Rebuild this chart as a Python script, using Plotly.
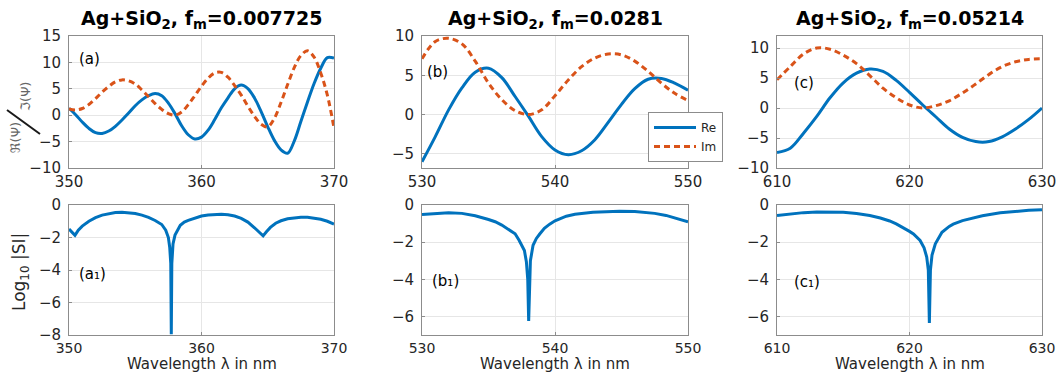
import plotly.graph_objects as go

# ---------------- data ----------------
wl_a = [350, 350.5, 351, 351.5, 352, 352.5, 353, 353.5, 354, 354.5, 355, 355.5, 356, 356.5,
        357, 357.5, 358, 358.5, 359, 359.5, 360, 360.5, 361, 361.5, 362, 362.5, 363, 363.5,
        364, 364.5, 365, 365.5, 366, 366.5, 367, 367.5, 368, 368.5, 369, 369.5, 370]
re_a = [1.3, 0.1, -1.3, -2.5, -3.3, -3.45, -3.0, -2.1, -0.9, 0.4, 1.8, 2.9, 3.7, 4.1,
        3.7, 2.3, 0.3, -2.0, -3.7, -4.5, -4.15, -2.84, -0.82, 1.4, 3.3, 5.0, 5.7, 5.05,
        3.27, 0.69, -2.19, -4.77, -6.56, -7.2, -4.9, -1.2, 2.5, 6.0, 8.9, 10.9, 10.8]
im_a = [1.2, 1.0, 1.27, 2.03, 3.14, 4.38, 5.45, 6.33, 6.69, 6.5, 5.9, 4.8, 3.5, 2.2,
        1.1, 0.3, 0.0, 0.6, 2.0, 3.7, 5.5, 7.0, 8.0, 8.1, 7.2, 5.6, 3.8, 1.7,
        -0.2, -1.7, -2.2, -0.6, 2.4, 5.8, 9.0, 11.3, 12.2, 11.0, 8.0, 3.8, -2.4]

wl_b = [530, 531, 532, 533, 534, 535, 536, 537, 538, 539, 540,
        541, 542, 543, 544, 545, 546, 547, 548, 549, 550]
re_b = [-6.0, -2.8, 0.6, 3.4, 5.4, 5.9, 4.7, 2.3, -0.2, -2.8, -4.5,
        -5.1, -4.6, -3.2, -1.0, 1.3, 3.3, 4.5, 4.6, 4.0, 3.1]
im_b = [7.1, 9.3, 9.7, 9.0, 6.8, 4.0, 1.9, 0.5, 0.0, 0.6, 2.4,
        4.4, 6.1, 7.2, 7.7, 7.6, 6.8, 5.5, 4.0, 2.7, 1.8]

wl_c = [610, 611, 612, 613, 614, 615, 616, 617, 618, 619, 620,
        621, 622, 623, 624, 625, 626, 627, 628, 629, 630]
re_c = [-7.4, -6.7, -4.2, -1.4, 1.7, 4.2, 5.8, 6.5, 6.1, 4.6, 2.6,
        0.5, -1.5, -3.5, -4.9, -5.6, -5.6, -4.8, -3.5, -1.9, 0.0]
im_c = [4.7, 6.9, 9.0, 10.0, 9.8, 8.8, 7.4, 5.4, 3.3, 1.7, 0.5,
        0.0, 0.4, 1.2, 2.5, 4.0, 5.6, 6.9, 7.7, 8.1, 8.2]

wl_a1 = [350, 350.2, 350.45, 350.7, 351, 351.5, 352, 352.5, 353, 353.5, 354, 354.5, 355,
         355.5, 356, 356.5, 357, 357.3, 357.5, 357.6, 357.68, 357.72, 357.76, 357.85, 358,
         358.4, 358.7, 359, 359.5, 360, 360.5, 361, 361.5, 362, 362.5, 363, 363.5, 364,
         364.4, 364.65, 364.9, 365.2, 365.6, 366, 366.5, 367, 367.5, 368, 368.5, 369,
         369.5, 370]
s_a1 = [-1.48, -1.65, -1.87, -1.55, -1.3, -1.0, -0.78, -0.62, -0.52, -0.46, -0.45, -0.47,
        -0.52, -0.62, -0.76, -0.95, -1.2, -1.55, -2.0, -2.6, -3.6, -7.95, -3.6, -2.4, -1.85,
        -1.25, -1.05, -0.95, -0.8, -0.68, -0.61, -0.58, -0.57, -0.6, -0.68, -0.82, -1.05,
        -1.4, -1.7, -1.9, -1.65, -1.38, -1.12, -0.97, -0.85, -0.78, -0.75, -0.76, -0.8,
        -0.88, -1.0, -1.17]

wl_b1 = [530, 531, 532, 533, 534, 535, 535.5, 536, 536.5, 537, 537.3, 537.5, 537.7, 537.85,
         537.95, 538.02, 538.08, 538.15, 538.35, 538.6, 538.85, 539.2, 539.6, 540, 540.85,
         541.5, 542.85, 544, 544.85, 546, 546.85, 547.5, 548.35, 549, 549.5, 550]
s_b1 = [-0.51, -0.45, -0.42, -0.45, -0.58, -0.78, -0.9, -1.08, -1.3, -1.55, -1.9, -2.15,
        -2.45, -3.07, -4.0, -6.25, -4.0, -3.0, -2.17, -1.8, -1.56, -1.25, -1.03, -0.85,
        -0.6, -0.5, -0.39, -0.34, -0.33, -0.35, -0.39, -0.45, -0.56, -0.7, -0.8, -0.91]

wl_c1 = [610, 611, 612, 613, 614, 615, 616, 617, 617.8, 618.5, 619, 619.5, 620, 620.3,
         620.8, 621.1, 621.3, 621.42, 621.5, 621.58, 621.7, 621.95, 622.45, 623, 623.3,
         624, 624.8, 625.5, 626.85, 628.4, 629, 630]
s_c1 = [-0.56, -0.47, -0.41, -0.38, -0.37, -0.39, -0.46, -0.56, -0.7, -0.86, -1.02, -1.21,
        -1.42, -1.56, -1.91, -2.3, -2.8, -3.5, -6.35, -3.5, -2.7, -2.09, -1.47, -1.15,
        -1.03, -0.84, -0.68, -0.58, -0.42, -0.3, -0.28, -0.25]

titles = ["Ag+SiO<sub>2</sub>, f<sub>m</sub>=0.007725",
          "Ag+SiO<sub>2</sub>, f<sub>m</sub>=0.0281",
          "Ag+SiO<sub>2</sub>, f<sub>m</sub>=0.05214"]
panel_labels = ["(a)", "(b)", "(c)", "(a\u2081)", "(b\u2081)", "(c\u2081)"]
label_pos = [(350.6, 10.7), (530.2, 5.4), (611.1, 4.2),
             (350.6, -4.23), (530.6, -4.07), (611.1, -4.16)]
xranges = [[350, 370], [530, 550], [610, 630]]
top_yranges = [[-10, 15], [-6.8, 10], [-10, 12]]
top_yticks = [[-10, -5, 0, 5, 10, 15], [-5, 0, 5, 10], [-10, -5, 0, 5, 10]]
bot_yranges = [[-8, 0], [-7, 0], [-7, 0]]
bot_yticks = [[-8, -6, -4, -2, 0], [-6, -4, -2, 0], [-6, -4, -2, 0]]

BLUE = "#0072BD"
ORANGE = "#D95319"
FONT = "DejaVu Sans"
W, H = 1057, 373

# pixel layout
xdom_px = [(69, 334), (422, 688), (777, 1042)]
top_px = (36, 168)
bot_px = (205, 335)


def px_x(p):
    return p / W


def px_y(p):
    return 1 - p / H


fig = go.Figure()

tops = [(wl_a, re_a, im_a), (wl_b, re_b, im_b), (wl_c, re_c, im_c)]
bots = [(wl_a1, s_a1), (wl_b1, s_b1), (wl_c1, s_c1)]

for i, (wl, re, im) in enumerate(tops):
    ax = "" if i == 0 else str(i + 1)
    fig.add_trace(go.Scatter(x=wl, y=re, mode="lines", name="Re",
                             line=dict(color=BLUE, width=3, shape="spline", smoothing=1.0),
                             showlegend=(i == 1), xaxis="x" + ax, yaxis="y" + ax))
    fig.add_trace(go.Scatter(x=wl, y=im, mode="lines", name="Im",
                             line=dict(color=ORANGE, width=3, dash="6px,4px",
                                       shape="spline", smoothing=1.0),
                             showlegend=(i == 1), xaxis="x" + ax, yaxis="y" + ax))

for i, (wl, s) in enumerate(bots):
    ax = str(i + 4)
    fig.add_trace(go.Scatter(x=wl, y=s, mode="lines", showlegend=False,
                             line=dict(color=BLUE, width=3),
                             xaxis="x" + ax, yaxis="y" + ax))

axis_common = dict(showline=True, linecolor="#8c8c8c", linewidth=1, mirror=True,
                   showgrid=True, gridcolor="#e6e6e6", gridwidth=1, zeroline=False,
                   ticks="inside", ticklen=3, tickcolor="#8c8c8c", automargin=False,
                   ticklabeloverflow="allow",
                   tickfont=dict(family=FONT, size=15, color="#262626"))

layout = dict(width=W, height=H, margin=dict(l=0, r=0, t=0, b=0, autoexpand=False),
              paper_bgcolor="white", plot_bgcolor="white",
              font=dict(family=FONT, color="#262626"),
              legend=dict(x=px_x(648), y=px_y(112), xanchor="left", yanchor="top",
                          bgcolor="white", bordercolor="#8c8c8c", borderwidth=1,
                          font=dict(family=FONT, size=12, color="#262626"),
                          tracegroupgap=0, itemwidth=42))

for i in range(3):
    xd = [px_x(xdom_px[i][0]), px_x(xdom_px[i][1])]
    xa = "xaxis" if i == 0 else "xaxis%d" % (i + 1)
    ya = "yaxis" if i == 0 else "yaxis%d" % (i + 1)
    anc = "y" if i == 0 else "y%d" % (i + 1)
    ancx = "x" if i == 0 else "x%d" % (i + 1)
    xr = xranges[i]
    layout[xa] = dict(axis_common, domain=xd, anchor=anc,
                      range=[xr[0] - 0.001, xr[1] + 0.001],
                      tickvals=[xr[0], xr[0] + 10, xr[1]], ticklabelstandoff=0)
    yr = top_yranges[i]
    layout[ya] = dict(axis_common, domain=[px_y(top_px[1]), px_y(top_px[0])], anchor=ancx,
                      range=[yr[0] - 0.001, yr[1] + 0.001], tickvals=top_yticks[i],
                      ticklabelstandoff=4)
    xb = "xaxis%d" % (i + 4)
    yb = "yaxis%d" % (i + 4)
    layout[xb] = dict(axis_common, domain=xd, anchor="y%d" % (i + 4),
                      range=[xr[0] - 0.001, xr[1] + 0.001],
                      tickvals=[xr[0], xr[0] + 10, xr[1]], ticklabelstandoff=0,
                      tickfont=dict(family=FONT, size=14, color="#262626"))
    br = bot_yranges[i]
    layout[yb] = dict(axis_common, domain=[px_y(bot_px[1]), px_y(bot_px[0])],
                      anchor="x%d" % (i + 4),
                      range=[br[0] - 0.001, br[1] + 0.001], tickvals=bot_yticks[i],
                      ticklabelstandoff=4)

fig.update_layout(**layout)

ann = []
for i in range(3):
    cx = (xdom_px[i][0] + xdom_px[i][1]) / 2
    ann.append(dict(xref="paper", yref="paper", x=px_x(cx), y=px_y(19),
                    text="<b>" + titles[i] + "</b>", showarrow=False,
                    xanchor="center", yanchor="middle",
                    font=dict(family=FONT, size=19, color="black")))
for i in range(3):
    cx = (xdom_px[i][0] + xdom_px[i][1]) / 2
    ann.append(dict(xref="paper", yref="paper", x=px_x(cx), y=0,
                    text="Wavelength \u03bb in nm", showarrow=False,
                    xanchor="center", yanchor="bottom", yshift=-2,
                    font=dict(family=FONT, size=15, color="#262626")))
axes_names = ["", "2", "3", "4", "5", "6"]
for k in range(6):
    ann.append(dict(xref="x" + axes_names[k], yref="y" + axes_names[k],
                    x=label_pos[k][0], y=label_pos[k][1], text=panel_labels[k],
                    showarrow=False, xanchor="left", yanchor="middle",
                    font=dict(family=FONT, size=15, color="black")))
# y titles
ann.append(dict(xref="paper", yref="paper", x=px_x(15), y=px_y(138),
                text="\u211c(\u03a8)", textangle=-90, showarrow=False,
                xanchor="center", yanchor="middle",
                font=dict(family=FONT, size=13, color="#666666")))
ann.append(dict(xref="paper", yref="paper", x=px_x(26), y=px_y(97),
                text="\u2111(\u03a8)", textangle=-90, showarrow=False,
                xanchor="center", yanchor="middle",
                font=dict(family=FONT, size=13, color="#666666")))
ann.append(dict(xref="paper", yref="paper", x=px_x(20), y=px_y(272),
                text="Log<sub>10</sub> |SI|", textangle=-90, showarrow=False,
                xanchor="center", yanchor="middle",
                font=dict(family=FONT, size=17, color="#262626")))

fig.update_layout(annotations=ann)
# fraction slash of the ℜ/ℑ axis label
fig.add_shape(type="line", xref="paper", yref="paper",
              x0=px_x(7), y0=px_y(110), x1=px_x(40), y1=px_y(134),
              line=dict(color="#1a1a1a", width=2))

fig.write_html("out.html", config={"displayModeBar": False},
               post_script="document.body.style.margin='0';")
